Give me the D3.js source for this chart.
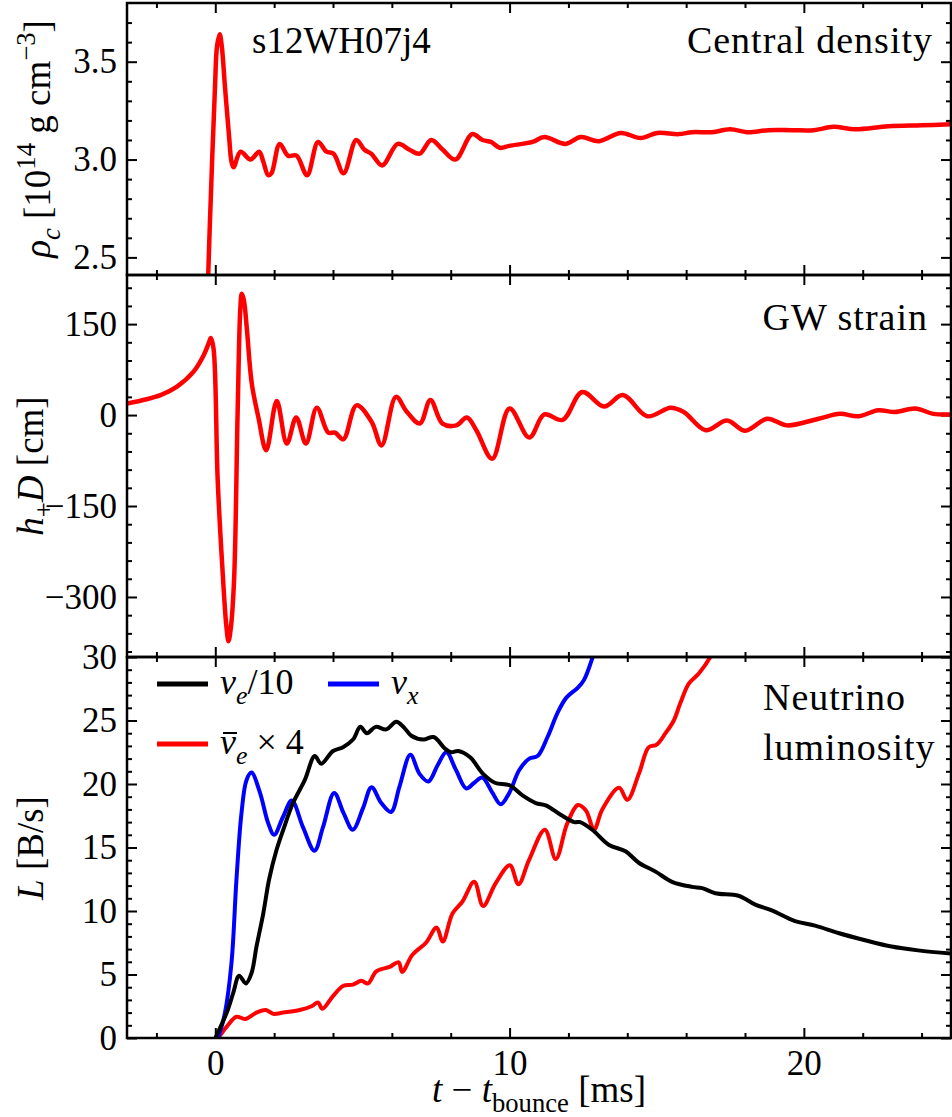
<!DOCTYPE html>
<html lang="en">
<head>
<meta charset="UTF-8">
<title>s12WH07j4</title>
<script src="https://cdn.jsdelivr.net/npm/d3@7/dist/d3.min.js"></script>
<style>
  body { margin: 0; background: #fff; }
  svg text { font-family: "Liberation Serif", "DejaVu Serif", serif !important; white-space: pre; fill: #000; }
</style>
</head>
<body>
<script>
// x axis, ms after bounce
var xMajor = [0, 10, 20];
var xMinor = [-2, 2, 4, 6, 8, 12, 14, 16, 18, 22, 24];

// central density [10^14 g/cm^3]
var rhoT = [-0.5, -0.24, -0.18, -0.01, 0.06, 0.15, 0.22, 0.33, 0.47, 0.55, 0.62, 0.86, 1.2, 1.49, 1.63, 1.8, 1.91, 2.19, 2.47, 2.76, 3.12, 3.49, 3.78, 4.02, 4.36, 4.79, 5.07, 5.3, 5.67, 6.2, 6.6, 6.94, 7.34, 7.73, 8.16, 8.73, 9.08, 9.37, 9.67, 9.99, 10.78, 11.18, 11.9, 12.42, 13.04, 13.78, 14.45, 15.02, 15.75, 16.2, 16.88, 17.5, 18.07, 18.8, 19.6, 20.33, 21.0, 21.74, 22.87, 24.0, 25.0];
var rhoV = [1.2, 2.41, 2.69, 3.37, 3.58, 3.64, 3.58, 3.37, 3.115, 2.99, 2.96, 3.04, 3.0, 3.04, 2.99, 2.92, 2.93, 3.08, 3.02, 3.02, 2.92, 3.09, 3.04, 3.03, 2.93, 3.10, 3.05, 3.03, 2.97, 3.08, 3.05, 3.03, 3.10, 3.05, 3.0, 3.13, 3.10, 3.09, 3.06, 3.07, 3.09, 3.115, 3.08, 3.115, 3.094, 3.136, 3.11, 3.136, 3.13, 3.14, 3.14, 3.155, 3.14, 3.15, 3.15, 3.15, 3.167, 3.155, 3.17, 3.175, 3.18];
var rhoMajor = [2.5, 3.0, 3.5];

// GW strain h+ D [cm]
var hT = [-3, -1.86, -1.3, -0.73, -0.39, -0.22, -0.15, -0.06, 0.08, 0.23, 0.38, 0.45, 0.53, 0.64, 0.76, 0.85, 0.9, 0.97, 1.07, 1.24, 1.47, 1.73, 2.09, 2.43, 2.75, 3.08, 3.45, 3.84, 4.07, 4.35, 4.8, 5.31, 5.65, 6.14, 6.5, 6.95, 7.31, 7.72, 8.19, 8.55, 8.87, 9.41, 10.0, 10.67, 11.18, 11.8, 12.47, 13.21, 13.85, 14.68, 15.47, 15.92, 16.66, 17.39, 18.01, 18.75, 19.42, 20.5, 21.23, 21.85, 22.53, 23.1, 23.78, 24.4, 25];
var hV = [19, 33, 47, 72, 99, 119, 127, 110, -105, -243, -350, -373, -350, -270, 6, 175, 200, 190, 144, 52, -5, -58, 23, -47, -4, -47, 12, -29, -29, -40, 16, -11, -50, 30, 6, -14, 25, -14, -17, -4, -25, -72, 11, -37, 1, -8, 38, 14, 33, -2, 12, 5, -25, -9, -26, -6, -17, -6, 2, -2, 8, 5, 11, 2, 1];
var hMajor = [-300, -150, 0, 150];

// neutrino luminosities [B/s]
var nueT = [0, 0.39, 0.61, 0.81, 1.04, 1.23, 1.4, 1.63, 1.83, 2.08, 2.31, 2.64, 3.04, 3.38, 3.6, 4.0, 4.34, 4.68, 4.93, 5.15, 5.45, 5.81, 6.15, 6.43, 6.66, 7.07, 7.42, 7.8, 8.01, 8.26, 8.66, 9.1, 9.5, 10.0, 10.44, 10.89, 11.25, 11.72, 12.2, 12.4, 12.81, 13.38, 13.94, 14.39, 14.96, 15.52, 16.2, 16.54, 16.99, 17.78, 18.35, 18.91, 19.7, 20.38, 21.17, 22.08, 22.98, 23.88, 25.0];
var nueV = [0, 2.0, 3.55, 4.9, 4.3, 5.1, 7.2, 9.8, 12.5, 14.8, 16.4, 18.5, 20.3, 22.2, 21.6, 22.6, 22.9, 23.5, 24.5, 24.0, 24.5, 24.3, 24.9, 24.4, 23.8, 23.5, 23.7, 22.8, 22.5, 22.6, 22.1, 20.8, 20.1, 19.9, 19.1, 18.5, 18.3, 17.6, 17.0, 17.0, 16.4, 15.2, 14.7, 13.8, 13.1, 12.3, 11.9, 11.8, 11.4, 11.2, 10.5, 10.05, 9.2, 8.85, 8.27, 7.7, 7.2, 6.9, 6.65];
var nuxT = [0.1, 0.33, 0.55, 0.72, 0.89, 1.06, 1.23, 1.52, 1.8, 2.0, 2.3, 2.6, 2.98, 3.37, 3.66, 4.04, 4.36, 4.67, 5.02, 5.31, 5.64, 5.97, 6.26, 6.63, 6.94, 7.24, 7.56, 7.85, 8.18, 8.53, 8.8, 9.07, 9.42, 9.7, 9.99, 10.33, 10.67, 10.95, 11.29, 11.63, 11.93, 12.33, 12.53, 12.81, 13.2];
var nuxV = [0, 2, 5.9, 12.5, 17.7, 20.3, 20.9, 19.3, 16.9, 16.0, 17.4, 18.7, 16.6, 14.75, 16.6, 19.3, 17.7, 16.4, 18.1, 19.75, 18.5, 17.8, 19.8, 22.3, 20.8, 20.2, 21.5, 22.5, 21.1, 19.65, 20.1, 20.5, 19.3, 18.4, 19.3, 21.1, 22.0, 22.2, 23.7, 25.6, 26.8, 27.6, 28.2, 29.9, 33];
var anueT = [0.1, 0.39, 0.72, 1.01, 1.4, 1.72, 1.97, 2.31, 2.87, 3.27, 3.49, 3.64, 4.0, 4.34, 4.68, 4.96, 5.19, 5.47, 5.92, 6.23, 6.35, 6.7, 7.16, 7.52, 7.73, 8.06, 8.4, 8.8, 9.1, 9.53, 10.01, 10.3, 10.66, 11.2, 11.57, 11.96, 12.33, 12.6, 12.87, 13.15, 13.72, 14.0, 14.4, 14.73, 15.0, 15.3, 15.58, 15.8, 16.09, 16.43, 16.82, 17.2];
var anueV = [0, 0.9, 1.67, 1.5, 2.0, 2.2, 1.9, 2.0, 2.2, 2.5, 2.8, 2.3, 3.3, 4.1, 4.2, 4.5, 4.3, 5.25, 5.6, 5.96, 5.2, 6.56, 7.5, 8.7, 7.6, 9.8, 10.75, 12.3, 10.4, 12.2, 13.6, 12.1, 14.0, 16.4, 14.1, 16.9, 18.35, 17.9, 16.4, 18.0, 19.7, 18.75, 20.85, 22.9, 23.1, 24.0, 25.0, 26.35, 27.9, 28.7, 30.0, 32];
var lumMajor = [0, 5, 10, 15, 20, 25, 30];

var width = 952, height = 1117;
var left = 127, right = 951;
var fs = 35;   // tick labels
var lfs = 37;  // axis titles
var cfs = 38;  // captions

var svg = d3.select('body').append('svg').attr('width', width).attr('height', height);
var x = d3.scaleLinear().domain([-3, 25]).range([left, right]);

var panels = [
    {top: 3, bottom: 275, domain: [2.41, 3.80], major: rhoMajor, minor: d3.range(25, 38).map(function(d){return d/10;}), fmt: d3.format('.1f')},
    {top: 275, bottom: 657, domain: [-399, 231], major: hMajor, minor: d3.range(-390, 231, 30), fmt: d3.format('d')},
    {top: 657, bottom: 1038, domain: [0, 30], major: lumMajor, minor: d3.range(0, 31, 1), fmt: d3.format('d')}
];

// rich text: parts of {t, it, sub, sup}
function rich(sel, parts, size) {
    var shift = 0;
    parts.forEach(function(p){
        var target = p.sub ? size*0.28 : (p.sup ? -size*0.4 : 0);
        sel.append('tspan')
            .attr('dy', target - shift)
            .attr('font-size', (p.sub || p.sup) ? size*0.72 : size)
            .attr('font-style', p.it ? 'italic' : 'normal')
            .text(p.t);
        shift = target;
    });
    return sel;
}

function styleAxis(g) {
    g.attr('font-family', null);
    g.select('.domain').remove();
    g.selectAll('.tick line').attr('stroke', '#000').attr('stroke-width', 2);
    g.selectAll('text').attr('font-size', fs);
}

panels.forEach(function(p, i){
    var y = d3.scaleLinear().domain(p.domain).range([p.bottom, p.top]);
    p.y = y;
    var minorY = p.minor.filter(function(v){ return p.major.indexOf(v) < 0; });

    // y ticks, left and right, pointing in
    svg.append('g').attr('transform', 'translate(' + left + ',0)')
        .call(d3.axisLeft(y).tickValues(p.major).tickSize(-10).tickPadding(10).tickFormat(p.fmt))
        .call(styleAxis);
    svg.append('g').attr('transform', 'translate(' + left + ',0)')
        .call(d3.axisLeft(y).tickValues(minorY).tickSize(-5).tickFormat(''))
        .call(styleAxis);
    svg.append('g').attr('transform', 'translate(' + right + ',0)')
        .call(d3.axisRight(y).tickValues(p.major).tickSize(-10).tickFormat(''))
        .call(styleAxis);
    svg.append('g').attr('transform', 'translate(' + right + ',0)')
        .call(d3.axisRight(y).tickValues(minorY).tickSize(-5).tickFormat(''))
        .call(styleAxis);

    // x ticks top and bottom
    var bottomAxis = d3.axisBottom(x).tickValues(xMajor).tickSize(-10).tickPadding(12);
    if (i < 2) bottomAxis.tickFormat('');
    svg.append('g').attr('transform', 'translate(0,' + p.bottom + ')').call(bottomAxis).call(styleAxis);
    svg.append('g').attr('transform', 'translate(0,' + p.bottom + ')')
        .call(d3.axisBottom(x).tickValues(xMinor).tickSize(-5).tickFormat('')).call(styleAxis);
    svg.append('g').attr('transform', 'translate(0,' + p.top + ')')
        .call(d3.axisTop(x).tickValues(xMajor).tickSize(-10).tickFormat('')).call(styleAxis);
    svg.append('g').attr('transform', 'translate(0,' + p.top + ')')
        .call(d3.axisTop(x).tickValues(xMinor).tickSize(-5).tickFormat('')).call(styleAxis);

    svg.append('clipPath').attr('id', 'clip' + i)
        .append('rect').attr('x', left).attr('y', p.top).attr('width', right - left).attr('height', p.bottom - p.top);
});

function drawLine(panel, idx, ts, vs, color, w) {
    var line = d3.line()
        .x(function(d){ return x(d[0]); })
        .y(function(d){ return panel.y(d[1]); })
        .curve(d3.curveCatmullRom.alpha(0.5));
    svg.append('path')
        .datum(d3.zip(ts, vs))
        .attr('clip-path', 'url(#clip' + idx + ')')
        .attr('fill', 'none')
        .attr('stroke', color)
        .attr('stroke-width', w)
        .attr('stroke-linejoin', 'round')
        .attr('stroke-linecap', 'round')
        .attr('d', line);
}

drawLine(panels[0], 0, rhoT, rhoV, '#ff0000', 4.5);
drawLine(panels[1], 1, hT, hV, '#ff0000', 4.5);
drawLine(panels[2], 2, anueT, anueV, '#ff0000', 4);
drawLine(panels[2], 2, nuxT, nuxV, '#0000ff', 4);
drawLine(panels[2], 2, nueT, nueV, '#000000', 4);

// panel frames
panels.forEach(function(p){
    svg.append('rect').attr('x', left).attr('y', p.top)
        .attr('width', right - left).attr('height', p.bottom - p.top)
        .attr('fill', 'none').attr('stroke', '#000').attr('stroke-width', 2.5);
});

// y labels
rich(svg.append('text').attr('text-anchor', 'middle').attr('transform', 'translate(50,139) rotate(-90)'),
    [{t: 'ρ', it: true}, {t: 'c', it: true, sub: true}, {t: ' [10'}, {t: '14', sup: true}, {t: ' g cm'}, {t: '−3', sup: true}, {t: ']'}], lfs);
rich(svg.append('text').attr('text-anchor', 'middle').attr('transform', 'translate(43,466) rotate(-90)'),
    [{t: 'h', it: true}, {t: '+', sub: true}, {t: 'D', it: true}, {t: ' [cm]'}], lfs);
rich(svg.append('text').attr('text-anchor', 'middle').attr('transform', 'translate(43,848) rotate(-90)'),
    [{t: 'L', it: true}, {t: ' [B/s]'}], lfs);

// x label
rich(svg.append('text').attr('text-anchor', 'middle').attr('x', (left + right) / 2).attr('y', 1102),
    [{t: 't', it: true}, {t: ' − '}, {t: 't', it: true}, {t: 'bounce', sub: true}, {t: ' [ms]'}], lfs);

// panel captions
svg.append('text').attr('x', 252).attr('y', 53).attr('font-size', 37).text('s12WH07j4');
var caps = [
    {x: 933, y: 53, anchor: 'end', t: 'Central density'},
    {x: 928, y: 330, anchor: 'end', t: 'GW strain'},
    {x: 763, y: 710, anchor: 'start', t: 'Neutrino'},
    {x: 763, y: 760, anchor: 'start', t: 'luminosity'}
];
caps.forEach(function(c){
    svg.append('text').attr('x', c.x).attr('y', c.y).attr('text-anchor', c.anchor)
        .attr('font-size', cfs).attr('letter-spacing', 1).text(c.t);
});

// legend
var legend = [
    {x: 157, y: 684, color: '#000000', bar: false, parts: [{t: 'ν', it: true}, {t: 'e', it: true, sub: true}, {t: '/10'}]},
    {x: 328, y: 684, color: '#0000ff', bar: false, parts: [{t: 'ν', it: true}, {t: 'x', it: true, sub: true}]},
    {x: 157, y: 744, color: '#ff0000', bar: true, parts: [{t: 'ν', it: true}, {t: 'e', it: true, sub: true}, {t: ' × 4'}]}
];
legend.forEach(function(l){
    svg.append('line').attr('x1', l.x).attr('x2', l.x + 51).attr('y1', l.y).attr('y2', l.y)
        .attr('stroke', l.color).attr('stroke-width', 5);
    rich(svg.append('text').attr('x', l.x + 63).attr('y', l.y + 10), l.parts, fs + 1);
    if (l.bar) {
        // bar over nu
        svg.append('line').attr('x1', l.x + 66).attr('x2', l.x + 80)
            .attr('y1', l.y - 11).attr('y2', l.y - 11)
            .attr('stroke', '#000').attr('stroke-width', 2);
    }
});
</script>
</body>
</html>
